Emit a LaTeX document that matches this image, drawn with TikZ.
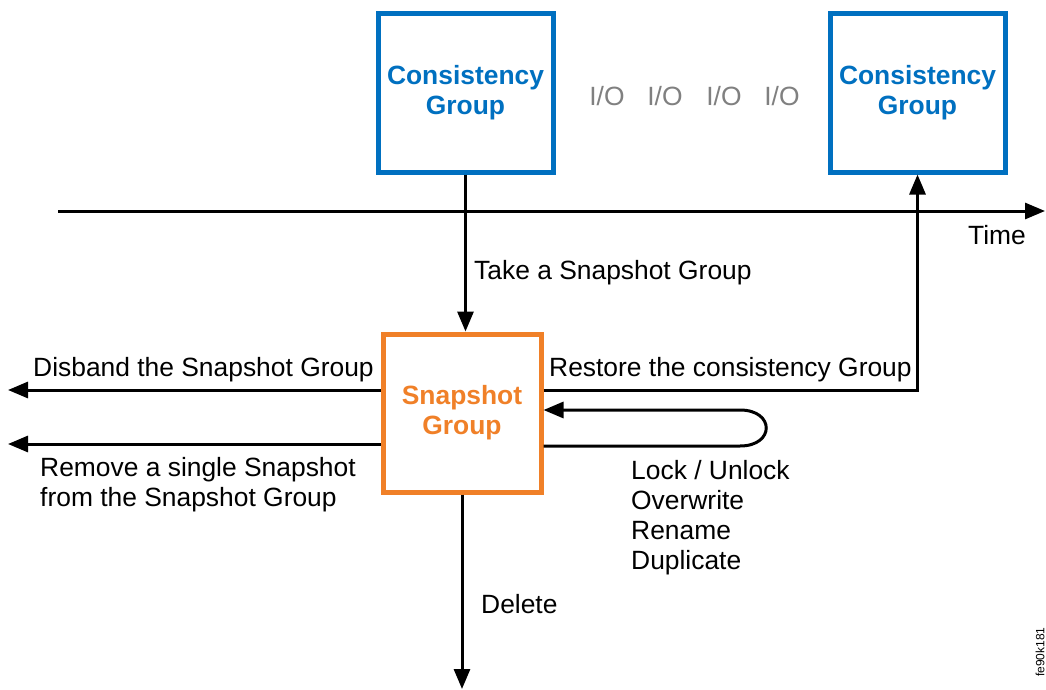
\documentclass[tikz,border=0pt]{standalone}
\usepackage{fontspec}
\setmainfont{Liberation Sans}
\usetikzlibrary{arrows.meta}
\definecolor{cgblue}{RGB}{0,112,192}
\definecolor{sgorange}{RGB}{240,128,40}
\definecolor{iogray}{RGB}{128,128,128}
\begin{document}
\begin{tikzpicture}[x=1pt,y=-1pt,
  lbl/.style={font=\fontsize{26.4pt}{30pt}\selectfont, inner sep=0pt, anchor=base west},
  cgbox/.style={draw=cgblue, line width=5pt, minimum width=175pt, minimum height=158pt,
     align=center, text=cgblue, font=\fontsize{26.4pt}{30pt}\selectfont\bfseries},
  sgbox/.style={draw=sgorange, line width=5pt, minimum width=158pt, minimum height=158pt,
     align=center, text=sgorange, font=\fontsize{26.4pt}{30pt}\selectfont\bfseries},
  arr/.style={line width=3pt, -{Triangle[length=20pt,width=16pt]}},
  ln/.style={line width=3pt}]
\useasboundingbox (0,0) rectangle (1046,690);
\fill[white] (0,0) rectangle (1046,690);
% boxes
\node[cgbox] (cg1) at (465.5,93) {Consistency\\Group};
\node[cgbox] (cg2) at (917.5,93) {Consistency\\Group};
\node[sgbox] (sg) at (462,413) {Snapshot\\Group};
% I/O
\foreach \x/\n in {607/a,665/b,724/c,782/d}
  \node[font=\fontsize{26.4pt}{30pt}\selectfont, text=iogray, inner sep=0pt, anchor=base] (io\n) at (\x,106) {I/O};
% time axis
\coordinate (t0) at (58,211);
\coordinate (t1) at (1045,211);
\draw[arr] (t0) -- (t1);
\node[lbl] (time) at (968,244) {Time};
% take snapshot
\draw[arr] (cg1.south) -- (cg1.south |- sg.north);
\node[lbl] (take) at (474,279) {Take a Snapshot Group};
% restore
\draw[arr] ([yshift=23pt]sg.east) -| (cg2.south);
\node[lbl] (restore) at (549,376) {Restore the consistency Group};
% disband
\coordinate (dl) at (8,390);
\draw[arr] ([yshift=23pt]sg.west) -- (dl);
\node[lbl] (disband) at (33,376) {Disband the Snapshot Group};
% remove
\coordinate (rl) at (8,444);
\draw[arr] ([yshift=-31pt]sg.west) -- (rl);
\node[lbl] (remove) at (40,476) {Remove a single Snapshot};
\node[lbl] (remove2) at (40,506) {from the Snapshot Group};
% loop
\coordinate (la) at (740,446);
\coordinate (lb) at (740,410);
\draw[arr] ([yshift=-33pt]sg.east) -- (la) .. controls (775,446) and (775,410) .. (lb) -- ([yshift=3pt]sg.east);
\node[lbl] (ops1) at (631,479) {Lock / Unlock};
\node[lbl] (ops2) at (631,509) {Overwrite};
\node[lbl] (ops3) at (631,539) {Rename};
\node[lbl] (ops4) at (631,569) {Duplicate};
% delete
\coordinate (dd) at (462,689);
\draw[arr] (sg.south) -- (dd);
\node[lbl] (delete) at (481,613) {Delete};
% figure id
\node[font=\fontsize{12pt}{12pt}\selectfont, rotate=90, inner sep=0pt] (fid) at (1040,652) {fe90k181};
\end{tikzpicture}
\end{document}
